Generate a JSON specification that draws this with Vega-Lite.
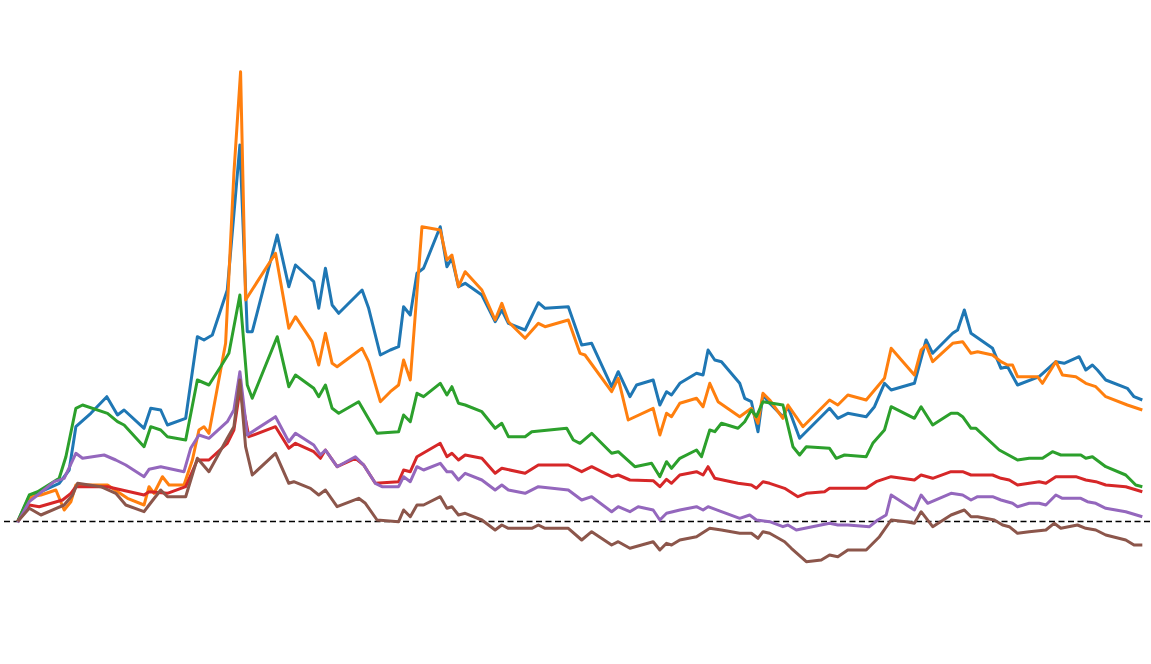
{
"$schema":"https://vega.github.io/schema/vega-lite/v6.json",
"width":1151,"height":664,"padding":0,
"autosize":{"type":"fit","contains":"padding"},
"background":"white",
"config":{"view":{"stroke":null}},
"datasets":{"series":[
{"s":"A","t":16.7,"v":0},{"s":"A","t":28.3,"v":24.8},{"s":"A","t":40,"v":29.8},{"s":"A","t":58.3,"v":38.2},{"s":"A","t":68.3,"v":51.5},{"s":"A","t":75,"v":94.8},{"s":"A","t":90,"v":108.2},{"s":"A","t":106,"v":124.8},{"s":"A","t":116.7,"v":106.5},{"s":"A","t":123.3,"v":111.5},{"s":"A","t":143.3,"v":93.2},{"s":"A","t":150,"v":113.2},{"s":"A","t":160,"v":111.5},{"s":"A","t":166.7,"v":96.5},{"s":"A","t":185,"v":103.2},{"s":"A","t":196.7,"v":184.8},{"s":"A","t":203.3,"v":181.5},{"s":"A","t":211.7,"v":186.5},{"s":"A","t":226.7,"v":231.5},{"s":"A","t":239.3,"v":376.5},{"s":"A","t":246.7,"v":189.8},{"s":"A","t":251.7,"v":189.8},{"s":"A","t":276.7,"v":286.5},{"s":"A","t":288.3,"v":234.8},{"s":"A","t":295,"v":256.5},{"s":"A","t":313.3,"v":239.8},{"s":"A","t":318.3,"v":213.2},{"s":"A","t":325,"v":253.2},{"s":"A","t":331.7,"v":216.5},{"s":"A","t":338.3,"v":208.2},{"s":"A","t":361.7,"v":231.5},{"s":"A","t":368.3,"v":213.2},{"s":"A","t":380,"v":166.5},{"s":"A","t":390,"v":171.5},{"s":"A","t":398.3,"v":174.8},{"s":"A","t":403.3,"v":214.8},{"s":"A","t":410,"v":206.5},{"s":"A","t":416.7,"v":248.2},{"s":"A","t":423.3,"v":253.2},{"s":"A","t":440,"v":294.8},{"s":"A","t":446.7,"v":254.8},{"s":"A","t":451.7,"v":263.2},{"s":"A","t":458.3,"v":234.8},{"s":"A","t":465,"v":238.2},{"s":"A","t":481.7,"v":226.5},{"s":"A","t":495,"v":199.8},{"s":"A","t":501.7,"v":211.5},{"s":"A","t":508.3,"v":198.2},{"s":"A","t":525,"v":191.5},{"s":"A","t":538.3,"v":218.8},{"s":"A","t":545,"v":213.2},{"s":"A","t":568.3,"v":214.8},{"s":"A","t":581.7,"v":176.5},{"s":"A","t":591.7,"v":178.2},{"s":"A","t":611.7,"v":134.8},{"s":"A","t":618.3,"v":149.8},{"s":"A","t":630,"v":124.8},{"s":"A","t":636.7,"v":136.5},{"s":"A","t":653.3,"v":141.5},{"s":"A","t":660,"v":116.5},{"s":"A","t":666.7,"v":129.8},{"s":"A","t":671.7,"v":126.5},{"s":"A","t":680,"v":138.2},{"s":"A","t":696.7,"v":148.2},{"s":"A","t":703.3,"v":146.5},{"s":"A","t":708.3,"v":171.5},{"s":"A","t":715,"v":161.5},{"s":"A","t":721.7,"v":159.8},{"s":"A","t":740,"v":138.2},{"s":"A","t":745,"v":123.2},{"s":"A","t":751.7,"v":119.8},{"s":"A","t":758.3,"v":89.8},{"s":"A","t":763.3,"v":126.5},{"s":"A","t":770,"v":118.2},{"s":"A","t":783.3,"v":104.8},{"s":"A","t":788.3,"v":114.8},{"s":"A","t":800,"v":83.2},{"s":"A","t":830,"v":113.2},{"s":"A","t":838.3,"v":103.2},{"s":"A","t":848.3,"v":108.2},{"s":"A","t":866.7,"v":104.8},{"s":"A","t":875,"v":114.8},{"s":"A","t":885,"v":138.2},{"s":"A","t":891.7,"v":131.5},{"s":"A","t":915,"v":138.2},{"s":"A","t":926.7,"v":181.5},{"s":"A","t":933.3,"v":168.2},{"s":"A","t":953.3,"v":188.2},{"s":"A","t":958.3,"v":191.5},{"s":"A","t":965,"v":211.5},{"s":"A","t":971.7,"v":188.2},{"s":"A","t":993.3,"v":173.2},{"s":"A","t":1001.7,"v":153.2},{"s":"A","t":1008.3,"v":154.8},{"s":"A","t":1018.3,"v":136.5},{"s":"A","t":1040,"v":144.8},{"s":"A","t":1056.7,"v":159.8},{"s":"A","t":1065,"v":158.2},{"s":"A","t":1080,"v":164.8},{"s":"A","t":1086.7,"v":151.5},{"s":"A","t":1093.3,"v":156.5},{"s":"A","t":1098.3,"v":151.5},{"s":"A","t":1106.7,"v":141.5},{"s":"A","t":1128.3,"v":133.2},{"s":"A","t":1135,"v":124.8},{"s":"A","t":1143.3,"v":121.5},
{"s":"B","t":16.7,"v":0},{"s":"B","t":30,"v":24.8},{"s":"B","t":40,"v":26.5},{"s":"B","t":55,"v":31.5},{"s":"B","t":63.3,"v":11.5},{"s":"B","t":70,"v":19.8},{"s":"B","t":75,"v":36.5},{"s":"B","t":106.7,"v":36.5},{"s":"B","t":126.7,"v":23.2},{"s":"B","t":143.3,"v":16.5},{"s":"B","t":148.3,"v":34.8},{"s":"B","t":153.3,"v":28.2},{"s":"B","t":161.7,"v":44.8},{"s":"B","t":168.3,"v":36.5},{"s":"B","t":183.3,"v":36.5},{"s":"B","t":191.7,"v":61.5},{"s":"B","t":198.3,"v":91.5},{"s":"B","t":203.3,"v":94.8},{"s":"B","t":208.3,"v":88.2},{"s":"B","t":225,"v":178.2},{"s":"B","t":233.3,"v":348.2},{"s":"B","t":240,"v":449.8},{"s":"B","t":245,"v":221.5},{"s":"B","t":275,"v":268.2},{"s":"B","t":288.3,"v":193.2},{"s":"B","t":295,"v":204.8},{"s":"B","t":311.7,"v":179.8},{"s":"B","t":318.3,"v":156.5},{"s":"B","t":325,"v":188.2},{"s":"B","t":331.7,"v":158.2},{"s":"B","t":336.7,"v":154.8},{"s":"B","t":361.7,"v":173.2},{"s":"B","t":368.3,"v":159.8},{"s":"B","t":380,"v":119.8},{"s":"B","t":390,"v":129.8},{"s":"B","t":398.3,"v":136.5},{"s":"B","t":403.3,"v":161.5},{"s":"B","t":410,"v":141.5},{"s":"B","t":421.7,"v":294.8},{"s":"B","t":440,"v":291.5},{"s":"B","t":446.7,"v":261.5},{"s":"B","t":451.7,"v":266.5},{"s":"B","t":458.3,"v":234.8},{"s":"B","t":465,"v":249.8},{"s":"B","t":481.7,"v":231.5},{"s":"B","t":495,"v":201.5},{"s":"B","t":501.7,"v":218.2},{"s":"B","t":508.3,"v":199.8},{"s":"B","t":525,"v":183.2},{"s":"B","t":538.3,"v":198.2},{"s":"B","t":545,"v":194.8},{"s":"B","t":568.3,"v":201.5},{"s":"B","t":580,"v":168.2},{"s":"B","t":585,"v":166.5},{"s":"B","t":611.7,"v":129.8},{"s":"B","t":618.3,"v":143.2},{"s":"B","t":628.3,"v":101.5},{"s":"B","t":653.3,"v":113.2},{"s":"B","t":660,"v":86.5},{"s":"B","t":666.7,"v":108.2},{"s":"B","t":671.7,"v":104.8},{"s":"B","t":680,"v":118.2},{"s":"B","t":696.7,"v":123.2},{"s":"B","t":703.3,"v":114.8},{"s":"B","t":710,"v":138.2},{"s":"B","t":718.3,"v":119.8},{"s":"B","t":740,"v":104.8},{"s":"B","t":751.7,"v":113.2},{"s":"B","t":758.3,"v":98.2},{"s":"B","t":763.3,"v":128.2},{"s":"B","t":770,"v":121.5},{"s":"B","t":783.3,"v":103.2},{"s":"B","t":788.3,"v":116.5},{"s":"B","t":803.3,"v":94.8},{"s":"B","t":830,"v":121.5},{"s":"B","t":838.3,"v":116.5},{"s":"B","t":848.3,"v":126.5},{"s":"B","t":866.7,"v":121.5},{"s":"B","t":885,"v":143.2},{"s":"B","t":891.7,"v":173.2},{"s":"B","t":915,"v":146.5},{"s":"B","t":921.7,"v":171.5},{"s":"B","t":926.7,"v":176.5},{"s":"B","t":933.3,"v":159.8},{"s":"B","t":953.3,"v":178.2},{"s":"B","t":963.3,"v":179.8},{"s":"B","t":971.7,"v":168.2},{"s":"B","t":978.3,"v":169.8},{"s":"B","t":993.3,"v":166.5},{"s":"B","t":1001.7,"v":159.8},{"s":"B","t":1008.3,"v":156.5},{"s":"B","t":1013.3,"v":156.5},{"s":"B","t":1018.3,"v":144.8},{"s":"B","t":1038.3,"v":144.8},{"s":"B","t":1043.3,"v":138.2},{"s":"B","t":1056.7,"v":159.8},{"s":"B","t":1063.3,"v":146.5},{"s":"B","t":1076.7,"v":144.8},{"s":"B","t":1086.7,"v":138.2},{"s":"B","t":1096.7,"v":134.8},{"s":"B","t":1106.7,"v":124.8},{"s":"B","t":1128.3,"v":116.5},{"s":"B","t":1143.3,"v":111.5},
{"s":"C","t":16.7,"v":0},{"s":"C","t":28.3,"v":26.5},{"s":"C","t":36.7,"v":29.8},{"s":"C","t":58.3,"v":43.2},{"s":"C","t":65,"v":64.8},{"s":"C","t":75,"v":113.2},{"s":"C","t":81.7,"v":116.5},{"s":"C","t":106.7,"v":108.2},{"s":"C","t":116.7,"v":99.8},{"s":"C","t":123.3,"v":96.5},{"s":"C","t":143.3,"v":74.8},{"s":"C","t":150,"v":94.8},{"s":"C","t":160,"v":91.5},{"s":"C","t":166.7,"v":84.8},{"s":"C","t":185,"v":81.5},{"s":"C","t":196.7,"v":141.5},{"s":"C","t":208.3,"v":136.5},{"s":"C","t":220,"v":154.8},{"s":"C","t":228.3,"v":168.2},{"s":"C","t":239.3,"v":226.5},{"s":"C","t":246.7,"v":136.5},{"s":"C","t":251.7,"v":123.2},{"s":"C","t":276.7,"v":184.8},{"s":"C","t":288.3,"v":134.8},{"s":"C","t":295,"v":146.5},{"s":"C","t":313.3,"v":133.2},{"s":"C","t":318.3,"v":124.8},{"s":"C","t":325,"v":136.5},{"s":"C","t":331.7,"v":113.2},{"s":"C","t":338.3,"v":108.2},{"s":"C","t":358.3,"v":119.8},{"s":"C","t":365,"v":108.2},{"s":"C","t":376.7,"v":88.2},{"s":"C","t":398.3,"v":89.8},{"s":"C","t":403.3,"v":106.5},{"s":"C","t":410,"v":99.8},{"s":"C","t":416.7,"v":128.2},{"s":"C","t":423.3,"v":124.8},{"s":"C","t":440,"v":138.2},{"s":"C","t":446.7,"v":126.5},{"s":"C","t":451.7,"v":134.8},{"s":"C","t":458.3,"v":118.2},{"s":"C","t":465,"v":116.5},{"s":"C","t":481.7,"v":109.8},{"s":"C","t":495,"v":93.2},{"s":"C","t":501.7,"v":98.2},{"s":"C","t":508.3,"v":84.8},{"s":"C","t":525,"v":84.8},{"s":"C","t":531.7,"v":89.8},{"s":"C","t":566.7,"v":93.2},{"s":"C","t":573.3,"v":81.5},{"s":"C","t":580,"v":78.2},{"s":"C","t":591.7,"v":88.2},{"s":"C","t":611.7,"v":68.2},{"s":"C","t":618.3,"v":69.8},{"s":"C","t":635,"v":54.8},{"s":"C","t":651.7,"v":58.2},{"s":"C","t":660,"v":44.8},{"s":"C","t":666.7,"v":59.8},{"s":"C","t":671.7,"v":53.2},{"s":"C","t":680,"v":63.2},{"s":"C","t":696.7,"v":71.5},{"s":"C","t":701.7,"v":64.8},{"s":"C","t":710,"v":91.5},{"s":"C","t":715,"v":89.8},{"s":"C","t":721.7,"v":98.2},{"s":"C","t":738.3,"v":93.2},{"s":"C","t":745,"v":99.8},{"s":"C","t":751.7,"v":111.5},{"s":"C","t":756.7,"v":104.8},{"s":"C","t":763.3,"v":119.8},{"s":"C","t":783.3,"v":116.5},{"s":"C","t":793.3,"v":74.8},{"s":"C","t":800,"v":66.5},{"s":"C","t":806.7,"v":74.8},{"s":"C","t":830,"v":73.2},{"s":"C","t":836.7,"v":63.2},{"s":"C","t":845,"v":66.5},{"s":"C","t":866.7,"v":64.8},{"s":"C","t":873.3,"v":78.2},{"s":"C","t":885,"v":91.5},{"s":"C","t":891.7,"v":114.8},{"s":"C","t":915,"v":103.2},{"s":"C","t":921.7,"v":114.8},{"s":"C","t":933.3,"v":96.5},{"s":"C","t":951.7,"v":108.2},{"s":"C","t":958.3,"v":108.2},{"s":"C","t":963.3,"v":104.8},{"s":"C","t":971.7,"v":93.2},{"s":"C","t":976.7,"v":93.2},{"s":"C","t":1000,"v":71.5},{"s":"C","t":1018.3,"v":61.5},{"s":"C","t":1030,"v":63.2},{"s":"C","t":1043.3,"v":63.2},{"s":"C","t":1053.3,"v":69.8},{"s":"C","t":1061.7,"v":66.5},{"s":"C","t":1081.7,"v":66.5},{"s":"C","t":1086.7,"v":63.2},{"s":"C","t":1093.3,"v":64.8},{"s":"C","t":1106.7,"v":54.8},{"s":"C","t":1126.7,"v":46.5},{"s":"C","t":1136.7,"v":36.5},{"s":"C","t":1143.3,"v":34.8},
{"s":"D","t":16.7,"v":0},{"s":"D","t":28.3,"v":16.5},{"s":"D","t":38.3,"v":14.8},{"s":"D","t":61.7,"v":21.5},{"s":"D","t":70,"v":28.2},{"s":"D","t":75,"v":34.8},{"s":"D","t":106.7,"v":34.8},{"s":"D","t":143.3,"v":26.5},{"s":"D","t":148.3,"v":29.8},{"s":"D","t":166.7,"v":28.2},{"s":"D","t":185,"v":34.8},{"s":"D","t":196.7,"v":61.5},{"s":"D","t":208.3,"v":61.5},{"s":"D","t":226.7,"v":78.2},{"s":"D","t":233.3,"v":91.5},{"s":"D","t":239.3,"v":131.5},{"s":"D","t":248.3,"v":84.8},{"s":"D","t":275,"v":94.8},{"s":"D","t":288.3,"v":73.2},{"s":"D","t":295,"v":78.2},{"s":"D","t":313.3,"v":69.8},{"s":"D","t":320,"v":63.2},{"s":"D","t":325,"v":71.5},{"s":"D","t":336.7,"v":54.8},{"s":"D","t":355,"v":63.2},{"s":"D","t":363.3,"v":56.5},{"s":"D","t":375,"v":38.2},{"s":"D","t":398.3,"v":39.8},{"s":"D","t":403.3,"v":51.5},{"s":"D","t":410,"v":49.8},{"s":"D","t":416.7,"v":64.8},{"s":"D","t":440,"v":78.2},{"s":"D","t":446.7,"v":64.8},{"s":"D","t":451.7,"v":68.2},{"s":"D","t":458.3,"v":61.5},{"s":"D","t":465,"v":66.5},{"s":"D","t":481.7,"v":63.2},{"s":"D","t":495,"v":48.2},{"s":"D","t":501.7,"v":53.2},{"s":"D","t":525,"v":48.2},{"s":"D","t":538.3,"v":56.5},{"s":"D","t":568.3,"v":56.5},{"s":"D","t":581.7,"v":49.8},{"s":"D","t":591.7,"v":54.8},{"s":"D","t":611.7,"v":44.8},{"s":"D","t":618.3,"v":46.5},{"s":"D","t":630,"v":41.5},{"s":"D","t":653.3,"v":40.8},{"s":"D","t":660,"v":34.8},{"s":"D","t":666.7,"v":42.2},{"s":"D","t":671.7,"v":38.2},{"s":"D","t":680,"v":46.5},{"s":"D","t":696.7,"v":49.8},{"s":"D","t":703.3,"v":46.5},{"s":"D","t":708.3,"v":54.8},{"s":"D","t":715,"v":43.2},{"s":"D","t":738.3,"v":38.2},{"s":"D","t":751.7,"v":36.5},{"s":"D","t":756.7,"v":33.2},{"s":"D","t":763.3,"v":39.8},{"s":"D","t":770,"v":38.2},{"s":"D","t":785,"v":33.2},{"s":"D","t":798.3,"v":24.8},{"s":"D","t":806.7,"v":28.2},{"s":"D","t":825,"v":29.8},{"s":"D","t":830,"v":33.2},{"s":"D","t":866.7,"v":33.2},{"s":"D","t":876.7,"v":39.8},{"s":"D","t":891.7,"v":44.8},{"s":"D","t":915,"v":41.5},{"s":"D","t":921.7,"v":46.5},{"s":"D","t":933.3,"v":43.2},{"s":"D","t":951.7,"v":49.8},{"s":"D","t":963.3,"v":49.8},{"s":"D","t":971.7,"v":46.5},{"s":"D","t":993.3,"v":46.5},{"s":"D","t":1001.7,"v":43.2},{"s":"D","t":1010,"v":41.5},{"s":"D","t":1018.3,"v":36.5},{"s":"D","t":1040,"v":39.8},{"s":"D","t":1046.7,"v":38.2},{"s":"D","t":1056.7,"v":44.8},{"s":"D","t":1076.7,"v":44.8},{"s":"D","t":1086.7,"v":41.5},{"s":"D","t":1096.7,"v":39.8},{"s":"D","t":1106.7,"v":36.5},{"s":"D","t":1126.7,"v":34.8},{"s":"D","t":1143.3,"v":29.8},
{"s":"E","t":16.7,"v":-1},{"s":"E","t":28.3,"v":19.8},{"s":"E","t":36.7,"v":26.5},{"s":"E","t":53.3,"v":39.8},{"s":"E","t":63.3,"v":43.2},{"s":"E","t":75,"v":68.2},{"s":"E","t":81.7,"v":63.2},{"s":"E","t":103.3,"v":66.5},{"s":"E","t":115,"v":61.5},{"s":"E","t":125,"v":56.5},{"s":"E","t":143.3,"v":44.8},{"s":"E","t":148.3,"v":52.2},{"s":"E","t":160,"v":54.8},{"s":"E","t":183.3,"v":49.8},{"s":"E","t":190,"v":73.2},{"s":"E","t":198.3,"v":86.5},{"s":"E","t":208.3,"v":83.2},{"s":"E","t":226.7,"v":99.8},{"s":"E","t":233.3,"v":111.5},{"s":"E","t":239.3,"v":149.8},{"s":"E","t":246.7,"v":86.5},{"s":"E","t":275,"v":104.8},{"s":"E","t":288.3,"v":79.8},{"s":"E","t":295,"v":88.2},{"s":"E","t":313.3,"v":76.5},{"s":"E","t":320,"v":66.5},{"s":"E","t":325,"v":71.5},{"s":"E","t":336.7,"v":54.8},{"s":"E","t":355,"v":64.8},{"s":"E","t":363.3,"v":56.5},{"s":"E","t":375,"v":38.2},{"s":"E","t":381.7,"v":34.8},{"s":"E","t":398.3,"v":34.8},{"s":"E","t":403.3,"v":44.8},{"s":"E","t":410,"v":39.8},{"s":"E","t":416.7,"v":54.8},{"s":"E","t":423.3,"v":51.5},{"s":"E","t":440,"v":58.2},{"s":"E","t":446.7,"v":49.8},{"s":"E","t":451.7,"v":49.8},{"s":"E","t":458.3,"v":41.5},{"s":"E","t":465,"v":48.2},{"s":"E","t":481.7,"v":41.5},{"s":"E","t":495,"v":31.5},{"s":"E","t":501.7,"v":36.5},{"s":"E","t":508.3,"v":31.5},{"s":"E","t":525,"v":28.2},{"s":"E","t":538.3,"v":34.8},{"s":"E","t":568.3,"v":31.5},{"s":"E","t":581.7,"v":21.5},{"s":"E","t":591.7,"v":24.8},{"s":"E","t":611.7,"v":9.8},{"s":"E","t":618.3,"v":14.8},{"s":"E","t":630,"v":9.8},{"s":"E","t":638.3,"v":14.8},{"s":"E","t":653.3,"v":11.5},{"s":"E","t":660,"v":1.5},{"s":"E","t":666.7,"v":8.2},{"s":"E","t":680,"v":11.5},{"s":"E","t":696.7,"v":14.8},{"s":"E","t":703.3,"v":11.5},{"s":"E","t":708.3,"v":14.8},{"s":"E","t":721.7,"v":9.8},{"s":"E","t":740,"v":3.2},{"s":"E","t":750,"v":6.5},{"s":"E","t":756.7,"v":1.5},{"s":"E","t":770,"v":-0.2},{"s":"E","t":783.3,"v":-5.2},{"s":"E","t":788.3,"v":-3.5},{"s":"E","t":796.7,"v":-8.5},{"s":"E","t":830,"v":-1.8},{"s":"E","t":838.3,"v":-3.5},{"s":"E","t":848.3,"v":-3.5},{"s":"E","t":870,"v":-5.2},{"s":"E","t":878.3,"v":1.5},{"s":"E","t":886.7,"v":6.5},{"s":"E","t":891.7,"v":26.5},{"s":"E","t":915,"v":11.5},{"s":"E","t":921.7,"v":26.5},{"s":"E","t":928.3,"v":18.2},{"s":"E","t":951.7,"v":28.2},{"s":"E","t":963.3,"v":26.5},{"s":"E","t":971.7,"v":21.5},{"s":"E","t":978.3,"v":24.8},{"s":"E","t":993.3,"v":24.8},{"s":"E","t":1001.7,"v":21.5},{"s":"E","t":1013.3,"v":18.2},{"s":"E","t":1018.3,"v":14.8},{"s":"E","t":1030,"v":18.2},{"s":"E","t":1040,"v":18.2},{"s":"E","t":1046.7,"v":16.5},{"s":"E","t":1056.7,"v":26.5},{"s":"E","t":1063.3,"v":23.2},{"s":"E","t":1081.7,"v":23.2},{"s":"E","t":1088.3,"v":19.8},{"s":"E","t":1096.7,"v":18.2},{"s":"E","t":1106.7,"v":13.2},{"s":"E","t":1126.7,"v":9.8},{"s":"E","t":1143.3,"v":4.8},
{"s":"F","t":16.7,"v":0},{"s":"F","t":28.3,"v":13.2},{"s":"F","t":40,"v":6.5},{"s":"F","t":63.3,"v":16.5},{"s":"F","t":71.7,"v":26.5},{"s":"F","t":76.7,"v":38.2},{"s":"F","t":100,"v":34.8},{"s":"F","t":115,"v":28.2},{"s":"F","t":125,"v":16.5},{"s":"F","t":143.3,"v":9.8},{"s":"F","t":148.3,"v":16.5},{"s":"F","t":160,"v":31.5},{"s":"F","t":166.7,"v":24.8},{"s":"F","t":185,"v":24.8},{"s":"F","t":196.7,"v":63.2},{"s":"F","t":208.3,"v":49.8},{"s":"F","t":226.7,"v":83.2},{"s":"F","t":233.3,"v":94.8},{"s":"F","t":239.3,"v":141.5},{"s":"F","t":245,"v":74.8},{"s":"F","t":251.7,"v":46.5},{"s":"F","t":275,"v":68.2},{"s":"F","t":288.3,"v":38.2},{"s":"F","t":293.3,"v":39.8},{"s":"F","t":310,"v":33.2},{"s":"F","t":318.3,"v":26.5},{"s":"F","t":325,"v":31.5},{"s":"F","t":336.7,"v":14.8},{"s":"F","t":358.3,"v":23.2},{"s":"F","t":365,"v":18.2},{"s":"F","t":376.7,"v":1.5},{"s":"F","t":398.3,"v":-0.2},{"s":"F","t":403.3,"v":11.5},{"s":"F","t":410,"v":4.8},{"s":"F","t":416.7,"v":16.5},{"s":"F","t":423.3,"v":16.5},{"s":"F","t":440,"v":24.8},{"s":"F","t":446.7,"v":13.2},{"s":"F","t":451.7,"v":14.8},{"s":"F","t":458.3,"v":6.5},{"s":"F","t":465,"v":8.2},{"s":"F","t":481.7,"v":1.5},{"s":"F","t":495,"v":-8.5},{"s":"F","t":501.7,"v":-3.5},{"s":"F","t":508.3,"v":-6.8},{"s":"F","t":531.7,"v":-6.8},{"s":"F","t":538.3,"v":-3.5},{"s":"F","t":545,"v":-6.8},{"s":"F","t":568.3,"v":-6.8},{"s":"F","t":581.7,"v":-18.5},{"s":"F","t":591.7,"v":-10.2},{"s":"F","t":611.7,"v":-23.5},{"s":"F","t":618.3,"v":-20.2},{"s":"F","t":630,"v":-26.8},{"s":"F","t":653.3,"v":-20.2},{"s":"F","t":660,"v":-28.5},{"s":"F","t":666.7,"v":-21.8},{"s":"F","t":671.7,"v":-23.5},{"s":"F","t":680,"v":-18.5},{"s":"F","t":696.7,"v":-15.2},{"s":"F","t":710,"v":-6.8},{"s":"F","t":721.7,"v":-8.5},{"s":"F","t":740,"v":-11.8},{"s":"F","t":751.7,"v":-11.8},{"s":"F","t":758.3,"v":-16.8},{"s":"F","t":763.3,"v":-10.2},{"s":"F","t":770,"v":-11.8},{"s":"F","t":785,"v":-20.2},{"s":"F","t":791.7,"v":-26.8},{"s":"F","t":806.7,"v":-40.2},{"s":"F","t":821.7,"v":-38.5},{"s":"F","t":830,"v":-33.5},{"s":"F","t":838.3,"v":-35.2},{"s":"F","t":848.3,"v":-28.5},{"s":"F","t":866.7,"v":-28.5},{"s":"F","t":880,"v":-15.2},{"s":"F","t":891.7,"v":1.5},{"s":"F","t":906.7,"v":-0.2},{"s":"F","t":915,"v":-1.8},{"s":"F","t":921.7,"v":9.8},{"s":"F","t":933.3,"v":-5.2},{"s":"F","t":951.7,"v":6.5},{"s":"F","t":965,"v":11.5},{"s":"F","t":971.7,"v":4.8},{"s":"F","t":978.3,"v":4.8},{"s":"F","t":995,"v":1.5},{"s":"F","t":1003.3,"v":-3.5},{"s":"F","t":1010,"v":-5.2},{"s":"F","t":1018.3,"v":-11.8},{"s":"F","t":1030,"v":-10.2},{"s":"F","t":1046.7,"v":-8.5},{"s":"F","t":1055,"v":-1.8},{"s":"F","t":1061.7,"v":-6.8},{"s":"F","t":1078.3,"v":-3.5},{"s":"F","t":1086.7,"v":-6.8},{"s":"F","t":1096.7,"v":-8.5},{"s":"F","t":1106.7,"v":-13.5},{"s":"F","t":1126.7,"v":-18.5},{"s":"F","t":1135,"v":-23.5},{"s":"F","t":1143.3,"v":-23.5}
],"zero":[{"v":0}]},
"layer":[
{"data":{"name":"zero"},"mark":{"type":"rule","color":"black","strokeWidth":1.6,"strokeDash":[6,3.5]},
 "encoding":{"y":{"field":"v","type":"quantitative","scale":{"domain":[-142.5,521.5],"nice":false,"zero":false},"axis":null}}},
{"data":{"name":"series"},"mark":{"type":"line","strokeWidth":3,"strokeJoin":"round","strokeCap":"butt"},
 "encoding":{
  "x":{"field":"t","type":"quantitative","scale":{"domain":[0,1151],"nice":false,"zero":false},"axis":null},
  "y":{"field":"v","type":"quantitative","scale":{"domain":[-142.5,521.5],"nice":false,"zero":false},"axis":null},
  "color":{"field":"s","type":"nominal","scale":{"domain":["A","B","C","D","E","F"],"range":["#1f77b4","#ff7f0e","#2ca02c","#d62728","#9467bd","#8c564b"]},"legend":null},
  "order":{"field":"t","type":"quantitative"}
 }}
]
}
